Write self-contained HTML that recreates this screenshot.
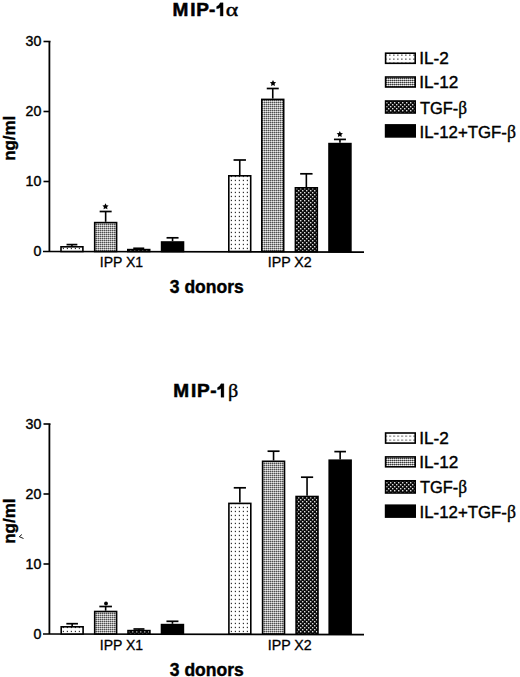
<!DOCTYPE html>
<html><head><meta charset="utf-8"><style>
html,body{margin:0;padding:0;background:#fff;}
svg{display:block;}
text{font-family:"Liberation Sans",sans-serif;fill:#000;}
</style></head><body>
<svg width="520" height="677" viewBox="0 0 520 677">
<defs>
<pattern id="p2" width="4" height="4" patternUnits="userSpaceOnUse"><rect width="4" height="4" fill="#fff"/><rect x="2.8" y="3.8" width="1.3" height="1.3" fill="#333"/><rect x="2.8" y="-0.2" width="1.3" height="1.3" fill="#333"/></pattern>
<pattern id="p12" width="2" height="2" patternUnits="userSpaceOnUse"><rect width="2" height="2" fill="#e8e8e8"/><rect x="0" y="0" width="2" height="1" fill="#a0a0a0"/><rect x="0" y="0" width="1" height="2" fill="#b4b4b4"/><rect x="0" y="0" width="1" height="1" fill="#505050"/></pattern>
<pattern id="ptgf" width="4" height="4" patternUnits="userSpaceOnUse"><rect width="4" height="4" fill="#0a0a0a"/><rect x="0" y="0" width="1.4" height="1.4" fill="#ddd"/><rect x="2" y="2" width="1.4" height="1.4" fill="#ddd"/></pattern>
<pattern id="p2L" width="4" height="4" patternUnits="userSpaceOnUse"><rect width="4" height="4" fill="#fff"/><rect x="1.2" y="2.5" width="1.3" height="1.3" fill="#444"/></pattern>
<pattern id="p12L" width="2" height="2" patternUnits="userSpaceOnUse"><rect width="2" height="2" fill="#f0f0f0"/><rect x="0" y="0" width="2" height="1" fill="#8a8a8a"/><rect x="0" y="0" width="1" height="2" fill="#bbb"/><rect x="0" y="0" width="1" height="1" fill="#3c3c3c"/></pattern>
<pattern id="ptgfL" width="4" height="4" patternUnits="userSpaceOnUse"><rect width="4" height="4" fill="#0a0a0a"/><rect x="0" y="0" width="1.4" height="1.4" fill="#ddd"/><rect x="2" y="2" width="1.4" height="1.4" fill="#ddd"/></pattern>
<pattern id="p2B" href="#p2" patternTransform="translate(0,0.5)"/>
<pattern id="p2LB" href="#p2L" patternTransform="translate(0.3,1)"/>
<pattern id="p12B" href="#p12" patternTransform="translate(0,0.5)"/>
<pattern id="ptgfB" href="#ptgf" patternTransform="translate(0,0.5)"/>
</defs>
<g transform="translate(0,0)">
<text x="172.4" y="16.1" font-size="19" font-weight="bold" stroke="#000" stroke-width="0.55">M</text>
<text x="190.3" y="16.1" font-size="19" font-weight="bold" stroke="#000" stroke-width="0.55">I</text>
<text x="196.2" y="16.1" font-size="19" font-weight="bold" stroke="#000" stroke-width="0.55">P</text>
<text x="209.1" y="16.1" font-size="19" font-weight="bold" stroke="#000" stroke-width="0.55">-</text>
<path d="M220.2,2.8 L223.1,2.8 L223.1,16.1 L220.2,16.1 L220.2,7.3999999999999995 Q218.6,8.7 216.6,8.8 L216.6,6.6 Q219.0,6.0 220.2,2.8 Z" fill="#000" stroke="#000" stroke-width="0.3"/>
<text transform="translate(225.8,16.1) scale(1.25,1)" font-size="19" style="font-family:Liberation Serif,serif" stroke="#000" stroke-width="0.4">&#945;</text>
</g>
<g transform="translate(0,0)">
<line x1="49.4" y1="41.5" x2="49.4" y2="251.5" stroke="#000" stroke-width="1.8"/>
<line x1="43.5" y1="41.5" x2="50.5" y2="41.5" stroke="#000" stroke-width="1.6"/>
<line x1="43.5" y1="181.5" x2="50" y2="181.5" stroke="#000" stroke-width="1.6"/>
<line x1="43.5" y1="111.5" x2="50" y2="111.5" stroke="#000" stroke-width="1.6"/>
<path d="M43,251.5 L364,252.1" stroke="#000" stroke-width="1.6" fill="none"/>
<text x="41.3" y="46.4" font-size="14.2" text-anchor="end" stroke="#000" stroke-width="0.4">30</text>
<text x="41.3" y="116.4" font-size="14.2" text-anchor="end" stroke="#000" stroke-width="0.4">20</text>
<text x="41.3" y="186.4" font-size="14.2" text-anchor="end" stroke="#000" stroke-width="0.4">10</text>
<text x="41.3" y="256.4" font-size="14.2" text-anchor="end" stroke="#000" stroke-width="0.4">0</text>
<line x1="71.95" y1="246.0" x2="71.95" y2="244.6" stroke="#000" stroke-width="1.6"/>
<line x1="66.55" y1="244.6" x2="77.35000000000001" y2="244.6" stroke="#000" stroke-width="1.7"/>
<rect x="61.0" y="246.8" width="21.9" height="4.7" fill="url(#p2)" stroke="#000" stroke-width="1.6"/>
<line x1="105.65" y1="221.8" x2="105.65" y2="211.5" stroke="#000" stroke-width="1.6"/>
<line x1="99.65" y1="211.5" x2="111.65" y2="211.5" stroke="#000" stroke-width="1.7"/>
<rect x="94.7" y="222.60000000000002" width="21.9" height="28.899999999999988" fill="url(#p12)" stroke="#000" stroke-width="1.6"/>
<line x1="138.75" y1="248.8" x2="138.75" y2="248.3" stroke="#000" stroke-width="1.6"/>
<line x1="133.25" y1="248.3" x2="144.25" y2="248.3" stroke="#000" stroke-width="1.7"/>
<rect x="127.8" y="249.60000000000002" width="21.9" height="1.8999999999999886" fill="url(#ptgf)" stroke="#000" stroke-width="1.6"/>
<line x1="172.55" y1="241.2" x2="172.55" y2="237.8" stroke="#000" stroke-width="1.6"/>
<line x1="166.55" y1="237.8" x2="178.55" y2="237.8" stroke="#000" stroke-width="1.7"/>
<rect x="161.60000000000002" y="242.0" width="21.9" height="9.50000000000001" fill="#000" stroke="#000" stroke-width="1.6"/>
<line x1="239.75" y1="175.0" x2="239.75" y2="160.0" stroke="#000" stroke-width="1.6"/>
<line x1="233.55" y1="160.0" x2="245.95" y2="160.0" stroke="#000" stroke-width="1.7"/>
<rect x="228.8" y="175.8" width="21.9" height="75.7" fill="url(#p2)" stroke="#000" stroke-width="1.6"/>
<line x1="272.75" y1="98.6" x2="272.75" y2="88.5" stroke="#000" stroke-width="1.6"/>
<line x1="266.75" y1="88.5" x2="278.75" y2="88.5" stroke="#000" stroke-width="1.7"/>
<rect x="261.8" y="99.39999999999999" width="21.9" height="152.1" fill="url(#p12)" stroke="#000" stroke-width="1.6"/>
<line x1="306.35" y1="187.0" x2="306.35" y2="173.8" stroke="#000" stroke-width="1.6"/>
<line x1="300.15000000000003" y1="173.8" x2="312.55" y2="173.8" stroke="#000" stroke-width="1.7"/>
<rect x="295.40000000000003" y="187.8" width="21.9" height="63.7" fill="url(#ptgf)" stroke="#000" stroke-width="1.6"/>
<line x1="339.95" y1="142.8" x2="339.95" y2="139.4" stroke="#000" stroke-width="1.6"/>
<line x1="333.95" y1="139.4" x2="345.95" y2="139.4" stroke="#000" stroke-width="1.7"/>
<rect x="329.0" y="143.60000000000002" width="21.9" height="107.89999999999999" fill="#000" stroke="#000" stroke-width="1.6"/>
<text x="99.8" y="267.1" font-size="14" stroke="#000" stroke-width="0.3">IPP X1</text>
<text x="267.8" y="267.0" font-size="14.2" stroke="#000" stroke-width="0.3">IPP X2</text>
<text x="169.8" y="293.1" font-size="17.5" font-weight="bold" stroke="#000" stroke-width="0.4">3 donors</text>
<text transform="translate(14.7,160.8) rotate(-90)" font-size="16.9" font-weight="bold" stroke="#000" stroke-width="0.4">ng/ml</text>
<polygon points="105.50,203.30 106.47,205.27 108.64,205.58 107.07,207.11 107.44,209.27 105.50,208.25 103.56,209.27 103.93,207.11 102.36,205.58 104.53,205.27" fill="#000"/><polygon points="273.00,80.00 273.97,81.97 276.14,82.28 274.57,83.81 274.94,85.97 273.00,84.95 271.06,85.97 271.43,83.81 269.86,82.28 272.03,81.97" fill="#000"/><polygon points="339.80,131.00 340.77,132.97 342.94,133.28 341.37,134.81 341.74,136.97 339.80,135.95 337.86,136.97 338.23,134.81 336.66,133.28 338.83,132.97" fill="#000"/>
</g>
<g transform="translate(0,0)">
<rect x="385.6" y="53.199999999999996" width="29.6" height="10.099999999999996" fill="url(#p2L)" stroke="#000" stroke-width="1.6"/>
<text transform="translate(419.2,64.4) scale(1,1)" font-size="17.2" stroke="#000" stroke-width="0.4">IL-2</text>
<rect x="385.6" y="77.0" width="29.6" height="9.999999999999995" fill="url(#p12L)" stroke="#000" stroke-width="1.6"/>
<text transform="translate(419.2,88.0) scale(1,1)" font-size="17.2" stroke="#000" stroke-width="0.4">IL-12</text>
<rect x="385.6" y="101.0" width="29.6" height="11.999999999999995" fill="url(#ptgfL)" stroke="#000" stroke-width="1.6"/>
<text transform="translate(420.0,113.7) scale(0.955,1)" font-size="17.2" stroke="#000" stroke-width="0.4">TGF-<tspan style="font-family:Liberation Serif,serif" font-size="18">&#946;</tspan></text>
<rect x="385.6" y="124.89999999999999" width="29.6" height="11.999999999999995" fill="#000" stroke="#000" stroke-width="1.6"/>
<text transform="translate(419.6,137.6) scale(0.978,1)" font-size="17.2" stroke="#000" stroke-width="0.4">IL-12+TGF-<tspan style="font-family:Liberation Serif,serif" font-size="18">&#946;</tspan></text>
</g>
<g transform="translate(0,381.2)">
<text x="173.3" y="16.1" font-size="19" font-weight="bold" stroke="#000" stroke-width="0.55">M</text>
<text x="190.9" y="16.1" font-size="19" font-weight="bold" stroke="#000" stroke-width="0.55">I</text>
<text x="196.9" y="16.1" font-size="19" font-weight="bold" stroke="#000" stroke-width="0.55">P</text>
<text x="210.3" y="16.1" font-size="19" font-weight="bold" stroke="#000" stroke-width="0.55">-</text>
<path d="M221.0,2.6 L223.9,2.6 L223.9,16.1 L221.0,16.1 L221.0,7.199999999999999 Q219.4,8.5 217.5,8.6 L217.5,6.4 Q219.8,5.800000000000001 221.0,2.6 Z" fill="#000" stroke="#000" stroke-width="0.3"/>
<text transform="translate(228.0,16.1) scale(1.06,1)" font-size="19" style="font-family:Liberation Serif,serif" stroke="#000" stroke-width="0.4">&#946;</text>
</g>
<g transform="translate(0,382.5)">
<line x1="49.4" y1="41.5" x2="49.4" y2="251.5" stroke="#000" stroke-width="1.8"/>
<line x1="43.5" y1="41.5" x2="50.5" y2="41.5" stroke="#000" stroke-width="1.6"/>
<line x1="43.5" y1="181.5" x2="50" y2="181.5" stroke="#000" stroke-width="1.6"/>
<line x1="43.5" y1="111.5" x2="50" y2="111.5" stroke="#000" stroke-width="1.6"/>
<path d="M43,251.5 L364,252.1" stroke="#000" stroke-width="1.6" fill="none"/>
<text x="41.3" y="46.4" font-size="14.2" text-anchor="end" stroke="#000" stroke-width="0.4">30</text>
<text x="41.3" y="116.4" font-size="14.2" text-anchor="end" stroke="#000" stroke-width="0.4">20</text>
<text x="41.3" y="186.4" font-size="14.2" text-anchor="end" stroke="#000" stroke-width="0.4">10</text>
<text x="41.3" y="256.4" font-size="14.2" text-anchor="end" stroke="#000" stroke-width="0.4">0</text>
<line x1="72.15" y1="243.5" x2="72.15" y2="241.20000000000005" stroke="#000" stroke-width="1.6"/>
<line x1="66.35000000000001" y1="241.20000000000005" x2="77.95" y2="241.20000000000005" stroke="#000" stroke-width="1.7"/>
<rect x="61.199999999999996" y="244.3" width="21.9" height="7.2" fill="url(#p2B)" stroke="#000" stroke-width="1.6"/>
<line x1="105.65" y1="228.20000000000005" x2="105.65" y2="224.0" stroke="#000" stroke-width="1.6"/>
<line x1="99.35000000000001" y1="224.0" x2="111.95" y2="224.0" stroke="#000" stroke-width="1.7"/>
<rect x="94.7" y="229.00000000000006" width="21.9" height="22.499999999999954" fill="url(#p12B)" stroke="#000" stroke-width="1.6"/>
<line x1="138.95" y1="247.29999999999995" x2="138.95" y2="246.5" stroke="#000" stroke-width="1.6"/>
<line x1="133.45" y1="246.5" x2="144.45" y2="246.5" stroke="#000" stroke-width="1.7"/>
<rect x="128.0" y="248.09999999999997" width="21.9" height="3.4000000000000457" fill="url(#ptgfB)" stroke="#000" stroke-width="1.6"/>
<line x1="172.45" y1="241.29999999999995" x2="172.45" y2="238.79999999999995" stroke="#000" stroke-width="1.6"/>
<line x1="166.45" y1="238.79999999999995" x2="178.45" y2="238.79999999999995" stroke="#000" stroke-width="1.7"/>
<rect x="161.5" y="242.09999999999997" width="21.9" height="9.400000000000045" fill="#000" stroke="#000" stroke-width="1.6"/>
<line x1="239.85" y1="120.10000000000002" x2="239.85" y2="105.30000000000001" stroke="#000" stroke-width="1.6"/>
<line x1="233.75" y1="105.30000000000001" x2="245.95" y2="105.30000000000001" stroke="#000" stroke-width="1.7"/>
<rect x="228.9" y="120.90000000000002" width="21.9" height="130.59999999999997" fill="url(#p2B)" stroke="#000" stroke-width="1.6"/>
<line x1="273.55" y1="78.0" x2="273.55" y2="68.69999999999999" stroke="#000" stroke-width="1.6"/>
<line x1="267.55" y1="68.69999999999999" x2="279.55" y2="68.69999999999999" stroke="#000" stroke-width="1.7"/>
<rect x="262.6" y="78.8" width="21.9" height="172.7" fill="url(#p12B)" stroke="#000" stroke-width="1.6"/>
<line x1="307.05" y1="113.19999999999999" x2="307.05" y2="94.69999999999999" stroke="#000" stroke-width="1.6"/>
<line x1="300.95" y1="94.69999999999999" x2="313.15000000000003" y2="94.69999999999999" stroke="#000" stroke-width="1.7"/>
<rect x="296.1" y="113.99999999999999" width="21.9" height="137.5" fill="url(#ptgfB)" stroke="#000" stroke-width="1.6"/>
<line x1="340.15" y1="76.89999999999998" x2="340.15" y2="69.10000000000002" stroke="#000" stroke-width="1.6"/>
<line x1="334.34999999999997" y1="69.10000000000002" x2="345.95" y2="69.10000000000002" stroke="#000" stroke-width="1.7"/>
<rect x="329.2" y="77.69999999999997" width="21.9" height="173.8" fill="#000" stroke="#000" stroke-width="1.6"/>
<text x="99.8" y="267.1" font-size="14" stroke="#000" stroke-width="0.3">IPP X1</text>
<text x="267.8" y="267.0" font-size="14.2" stroke="#000" stroke-width="0.3">IPP X2</text>
<text x="169.8" y="293.1" font-size="17.5" font-weight="bold" stroke="#000" stroke-width="0.4">3 donors</text>
<text transform="translate(14.7,161.20000000000002) rotate(-90)" font-size="16.9" font-weight="bold" stroke="#000" stroke-width="0.4">ng/ml</text>
<circle cx="106" cy="221.0" r="1.9" fill="#000"/><path d="M19.3,154.2 l2.6,-2.2 M19.3,154.2 l4.2,1.8" stroke="#000" stroke-width="0.9" fill="none"/>
</g>
<g transform="translate(0,0)">
<rect x="385.6" y="433.0" width="29.6" height="10.099999999999989" fill="url(#p2LB)" stroke="#000" stroke-width="1.6"/>
<text transform="translate(419.2,444.2) scale(1,1)" font-size="17.2" stroke="#000" stroke-width="0.4">IL-2</text>
<rect x="385.6" y="456.90000000000003" width="29.6" height="9.9" fill="url(#p12L)" stroke="#000" stroke-width="1.6"/>
<text transform="translate(419.2,467.8) scale(1,1)" font-size="17.2" stroke="#000" stroke-width="0.4">IL-12</text>
<rect x="385.6" y="480.8" width="29.6" height="12.200000000000012" fill="url(#ptgfL)" stroke="#000" stroke-width="1.6"/>
<text transform="translate(420.0,493.2) scale(0.955,1)" font-size="17.2" stroke="#000" stroke-width="0.4">TGF-<tspan style="font-family:Liberation Serif,serif" font-size="18">&#946;</tspan></text>
<rect x="385.6" y="505.2" width="29.6" height="11.9" fill="#000" stroke="#000" stroke-width="1.6"/>
<text transform="translate(419.6,517.5) scale(0.978,1)" font-size="17.2" stroke="#000" stroke-width="0.4">IL-12+TGF-<tspan style="font-family:Liberation Serif,serif" font-size="18">&#946;</tspan></text>
</g>
</svg>
</body></html>
